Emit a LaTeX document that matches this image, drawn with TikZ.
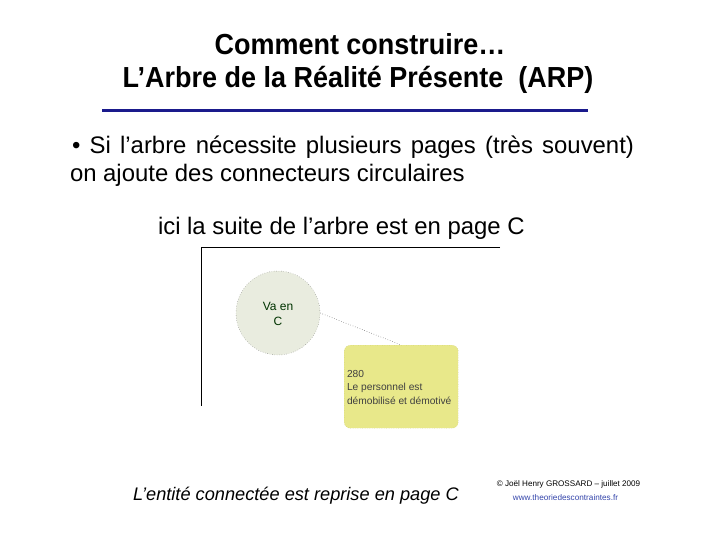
\documentclass[tikz,border=0pt]{standalone}
\usepackage{fontspec}
\setmainfont{Liberation Sans}
\usetikzlibrary{calc}
\definecolor{navy}{HTML}{1A1A8C}
\definecolor{circfill}{HTML}{E9ECDF}
\definecolor{boxfill}{HTML}{E8E88A}
\definecolor{linkblue}{HTML}{3344AA}
\tikzset{
  plain/.style={inner sep=0pt, outer sep=0pt},
  titletext/.style={plain, font=\fontsize{29}{33}\selectfont\bfseries},
  body/.style={plain, font=\fontsize{23.9}{28}\selectfont},
  connector/.style={draw=black!70, dotted, line width=0.5pt},
}
\begin{document}
\begin{tikzpicture}[x=1pt, y=-1pt]
\useasboundingbox (0,0) rectangle (720,540);
% title
\node[titletext, anchor=base] (t1) at (360,55) {\scalebox{0.93}[1]{Comment construire…}};
\node[titletext, anchor=base] (t2) at (358,88) {\scalebox{0.93}[1]{L’Arbre de la Réalité Présente\ \ (ARP)}};
\coordinate (ruleL) at (102,110.5);
\coordinate (ruleR) at (588,110.5);
\draw[navy, line width=2.5pt] (ruleL) -- (ruleR);
% bullet text
\node[body, anchor=north west, text width=564pt, align=justify] (bullet) at (70,135.5)
  {\hspace*{2pt}• Si l’arbre nécessite plusieurs pages (très souvent)\linebreak on ajoute des connecteurs circulaires};
\node[body, anchor=base west] (ici) at (158,234) {ici la suite de l’arbre est en page C};
% diagram
\coordinate (fTL) at (201,247);
\coordinate (fTR) at (500,247);
\coordinate (fBL) at (201,406);
\draw[black, line width=1pt] (fTR) -- (fTL) -- (fBL);
\node[circle, draw=black!60, dotted, fill=circfill, minimum size=84pt, inner sep=0pt] (va) at (278,313) {};
\node[plain, anchor=base, font=\fontsize{12}{15}\selectfont, text=black!80!green] (va1) at (278,310) {Va en};
\node[plain, anchor=base, font=\fontsize{12}{15}\selectfont, text=black!80!green] (va2) at (278,325) {C};
\node[rounded corners=6pt, fill=boxfill, draw=boxfill!80!black, dotted, minimum width=114pt, minimum height=83pt,
      anchor=north west] (box) at (344,345) {};
\node[plain, anchor=base west, font=\fontsize{10.2}{13.5}\selectfont, text=black!75] (b1) at (347,377) {280};
\node[plain, anchor=base west, font=\fontsize{10.2}{13.5}\selectfont, text=black!75] (b2) at (347,390.5) {Le personnel est};
\node[plain, anchor=base west, font=\fontsize{10.2}{13.5}\selectfont, text=black!75] (b3) at (347,404) {démobilisé et démotivé};
\draw[connector] (va.east) -- ($(box.north west)!0.5!(box.north east)$);
% bottom
\node[plain, anchor=base west, font=\fontsize{18.2}{22}\selectfont\itshape] (entite) at (133,500) {L’entité connectée est reprise en page C};
\node[plain, anchor=base, font=\fontsize{8.1}{9}\selectfont] (copy) at (568.5,486) {© Joël Henry GROSSARD – juillet 2009};
\node[plain, anchor=base, font=\fontsize{8.2}{9}\selectfont, text=linkblue] (url) at (565.5,500) {www.theoriedescontraintes.fr};
\end{tikzpicture}
\end{document}
